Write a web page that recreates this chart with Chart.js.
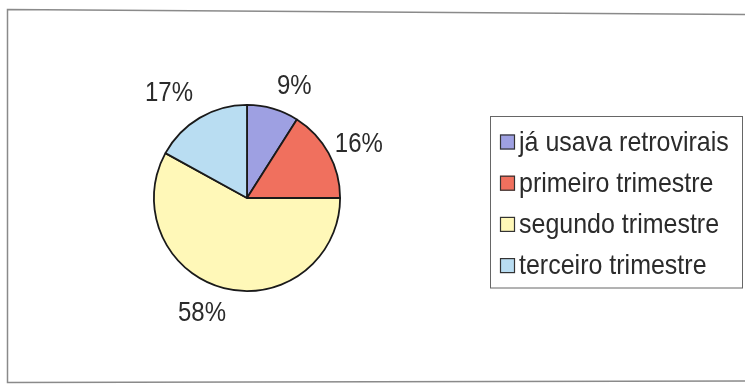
<!DOCTYPE html>
<html>
<head>
<meta charset="utf-8">
<script src="https://cdn.jsdelivr.net/npm/chart.js@4/dist/chart.umd.min.js"></script>
<style>
  html, body { margin: 0; padding: 0; background: #fff; }
  canvas { display: block; }
</style>
</head>
<body>
<canvas id="pie" width="745" height="386"></canvas>
<script>
// Momento de início dos antirretrovirais (%)
const categories = ['já usava retrovirais', 'primeiro trimestre', 'segundo trimestre', 'terceiro trimestre'];
const percents = [9, 16, 58, 17];
const sliceColors = ['#9ea0e2', '#f0705e', '#fff8b8', '#b9ddf2'];

// small hand nudges for the percent labels (x, y)
const labelNudge = [[14, 3], [-2, 9], [-15, -1], [-14, 4]];

const FONT = '"Liberation Sans", Arial, sans-serif';
const TEXT = '#2b2b2b';
const STRETCH = 1.13; // text is drawn slightly tall

function tallText(ctx, txt, x, y) {
    ctx.save();
    ctx.translate(x, y);
    ctx.scale(1, STRETCH);
    ctx.fillText(txt, 0, 0);
    ctx.restore();
}

// outer frame (slightly skewed top edge, open on the right)
const framePlugin = {
    id: 'frame',
    beforeDraw(chart) {
        const ctx = chart.ctx;
        ctx.save();
        ctx.fillStyle = '#fff';
        ctx.fillRect(0, 0, chart.width, chart.height);
        ctx.strokeStyle = '#8a8a8a';
        ctx.lineWidth = 1.5;
        ctx.beginPath();
        ctx.moveTo(745, 14.5);
        ctx.lineTo(7.5, 9.5);
        ctx.lineTo(7.5, 382.5);
        ctx.lineTo(745, 381);
        ctx.stroke();
        ctx.restore();
    }
};

// percent labels placed just outside each slice
const pctLabels = {
    id: 'pctLabels',
    afterDatasetsDraw(chart) {
        const ctx = chart.ctx;
        const meta = chart.getDatasetMeta(0);
        ctx.save();
        ctx.font = '24px ' + FONT;
        ctx.fillStyle = TEXT;
        ctx.textAlign = 'center';
        ctx.textBaseline = 'middle';
        meta.data.forEach((arc, i) => {
            const mid = (arc.startAngle + arc.endAngle) / 2;
            const dx = Math.cos(mid), dy = Math.sin(mid);
            const txt = percents[i] + '%';
            const w = ctx.measureText(txt).width, h = 24;
            const d = arc.outerRadius + 10 + Math.abs(dx) * w / 2 + Math.abs(dy) * h / 2;
            tallText(ctx, txt, arc.x + dx * d + labelNudge[i][0], arc.y + dy * d + labelNudge[i][1]);
        });
        ctx.restore();
    }
};

// boxed legend on the right
const boxLegend = {
    id: 'boxLegend',
    afterDraw(chart) {
        const ctx = chart.ctx;
        const ds = chart.data.datasets[0];
        ctx.save();
        ctx.strokeStyle = '#666';
        ctx.lineWidth = 1;
        ctx.strokeRect(490.5, 116.5, 252, 171.5);
        ctx.font = '25px ' + FONT;
        ctx.textBaseline = 'middle';
        chart.data.labels.forEach((lab, i) => {
            const cy = 142 + i * 41.2;
            ctx.fillStyle = ds.backgroundColor[i];
            ctx.fillRect(500, cy - 7.5, 15, 15);
            ctx.strokeStyle = '#333';
            ctx.lineWidth = 1.2;
            ctx.strokeRect(500.5, cy - 7, 14, 14);
            ctx.fillStyle = TEXT;
            tallText(ctx, lab, 519, cy + 1);
        });
        ctx.restore();
    }
};

new Chart(document.getElementById('pie').getContext('2d'), {
    type: 'pie',
    data: {
        labels: categories,
        datasets: [{
            data: percents,
            backgroundColor: sliceColors,
            borderColor: '#1a1a1a',
            borderWidth: 1.8
        }]
    },
    options: {
        responsive: false,
        animation: false,
        layout: { padding: { left: 153, right: 404, top: 104, bottom: 94 } },
        plugins: {
            legend: { display: false },
            tooltip: { enabled: false }
        }
    },
    plugins: [framePlugin, pctLabels, boxLegend]
});
</script>
</body>
</html>
